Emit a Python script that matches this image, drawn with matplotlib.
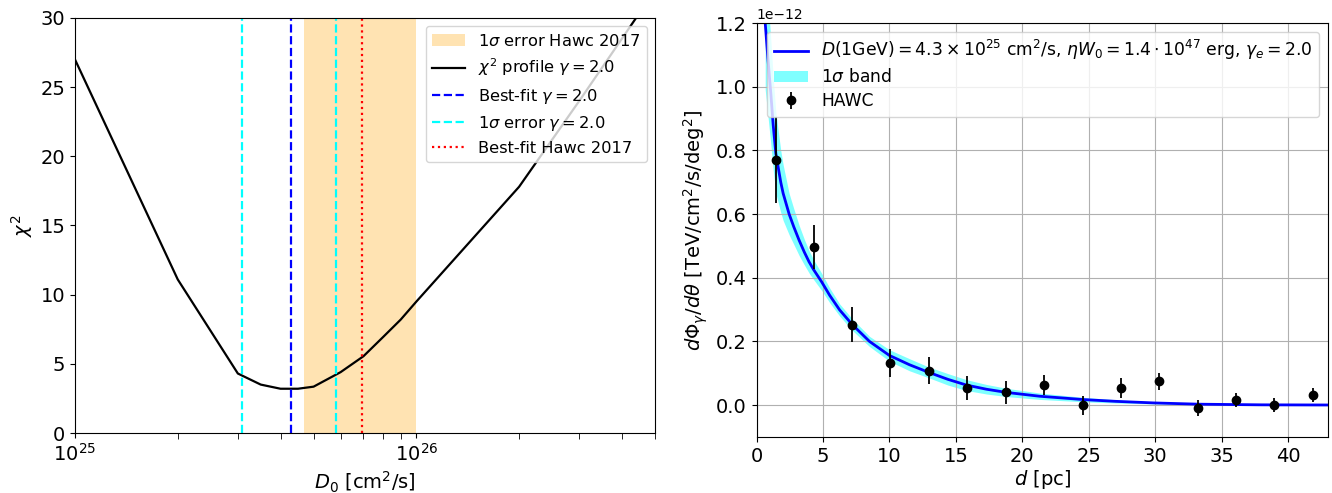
import numpy as np
import matplotlib
matplotlib.use("Agg")
import matplotlib.pyplot as plt

# ---- left panel: chi2 profile vs D0
D0 = [1e25, 2e25, 3e25, 3.5e25, 4e25, 4.5e25, 5e25, 6e25, 7e25, 8e25, 9e25,
      1e26, 2e26, 3e26, 4e26, 5e26]
chi2 = [27.0, 11.1, 4.3, 3.5, 3.2, 3.2, 3.35, 4.4, 5.55, 6.95, 8.2,
        9.5, 17.8, 24.0, 28.5, 32.0]
best_fit = 4.3e25
err_lo, err_hi = 3.08e25, 5.82e25
hawc_best = 6.95e25
hawc_lo, hawc_hi = 4.7e25, 1.0e26

# ---- right panel: surface brightness profile (units of 1e-12)
scale = 1e-12
d_model = [0.65, 0.85, 1.07, 1.25, 1.45, 1.82, 2.0, 2.45, 2.8, 3.2, 3.6, 3.95,
           4.3, 4.9, 5.5, 6.25, 7.2, 8.5, 10.0, 11.5, 12.95, 14.4, 15.8, 17.3,
           18.8, 21.3, 24.6, 27.0, 29.9, 33.3, 38.0, 43.0]
f_model = [1.20, 1.09, 0.98, 0.88, 0.79, 0.70, 0.665, 0.60, 0.56, 0.518, 0.48,
           0.45, 0.425, 0.387, 0.345, 0.299, 0.253, 0.20, 0.156, 0.127, 0.103,
           0.081, 0.063, 0.050, 0.040, 0.028, 0.0175, 0.012, 0.007, 0.003,
           0.001, 0.0005]
band_lo = [0.99, 0.91, 0.82, 0.74, 0.665, 0.605, 0.58, 0.535, 0.505, 0.47,
           0.44, 0.415, 0.394, 0.36, 0.322, 0.28, 0.235, 0.184, 0.138, 0.108,
           0.086, 0.063, 0.046, 0.035, 0.027, 0.018, 0.0105, 0.0068, 0.0038,
           0.0015, 0.0005, 0.0002]
band_hi = [1.42, 1.28, 1.15, 1.03, 0.92, 0.80, 0.755, 0.665, 0.617, 0.565,
           0.52, 0.485, 0.456, 0.414, 0.368, 0.318, 0.271, 0.216, 0.174, 0.146,
           0.12, 0.099, 0.08, 0.065, 0.053, 0.038, 0.0245, 0.0172, 0.0102,
           0.0045, 0.0015, 0.0008]

d_hawc = [1.43, 4.3, 7.2, 10.05, 12.95, 15.8, 18.75, 21.6, 24.6, 27.45, 30.3,
          33.25, 36.1, 38.95, 41.9]
f_hawc = [0.77, 0.496, 0.253, 0.133, 0.108, 0.054, 0.041, 0.0625, -0.001,
          0.055, 0.075, -0.008, 0.0155, 0.002, 0.033]
e_hawc = [0.134, 0.07, 0.056, 0.044, 0.043, 0.038, 0.036, 0.032, 0.031,
          0.031, 0.026, 0.025, 0.022, 0.022, 0.022]

fig = plt.figure(figsize=(13.32, 4.93), dpi=100)

ax1 = fig.add_axes([0.0563, 0.1217, 0.4354, 0.8418])
span = ax1.axvspan(hawc_lo, hawc_hi, color="orange", alpha=0.3, lw=0)
l_chi, = ax1.plot(D0, chi2, color="k", lw=1.6)
l_bf = ax1.axvline(best_fit, color="blue", ls="--", lw=1.6)
l_er = ax1.axvline(err_lo, color="cyan", ls="--", lw=1.6)
ax1.axvline(err_hi, color="cyan", ls="--", lw=1.6)
l_hb = ax1.axvline(hawc_best, color="red", ls=":", lw=1.6)
ax1.set_xscale("log")
ax1.set_xlim(1e25, 5e26)
ax1.set_ylim(0, 30)
ax1.set_xlabel(r"$D_0$ [cm$^2$/s]", fontsize=14)
ax1.set_ylabel(r"$\chi^2$", fontsize=14)
ax1.tick_params(labelsize=14)
ax1.tick_params(which="minor", length=4)
ax1.legend([span, l_chi, l_bf, l_er, l_hb],
           [r"1$\sigma$ error Hawc 2017", r"$\chi^2$ profile $\gamma = 2.0$",
            r"Best-fit $\gamma = 2.0$", r"1$\sigma$ error $\gamma = 2.0$",
            "Best-fit Hawc 2017"],
           loc="upper right", fontsize=11.7)

ax2 = fig.add_axes([0.568, 0.1136, 0.429, 0.8397])
band = ax2.fill_between(d_model, np.array(band_lo) * scale, np.array(band_hi) * scale,
                        color="cyan", alpha=0.5, lw=0)
l_mod, = ax2.plot(d_model, np.array(f_model) * scale, color="blue", lw=2)
eb = ax2.errorbar(d_hawc, np.array(f_hawc) * scale, yerr=np.array(e_hawc) * scale,
                  fmt="o", color="k", ms=6, elinewidth=1.3)
ax2.set_xlim(0, 43)
ax2.set_ylim(-0.1e-12, 1.2e-12)
ax2.grid(True)
ax2.set_xlabel(r"$d$ [pc]", fontsize=14, labelpad=2)
ax2.set_ylabel(r"$d\Phi_\gamma/d\theta$ [TeV/cm$^2$/s/deg$^2$]", fontsize=14)
ax2.tick_params(labelsize=14)
ax2.legend([l_mod, band, eb],
           [r"$D(1{\rm GeV}) = 4.3\times10^{25}$ cm$^2$/s, $\eta W_0 = 1.4\cdot10^{47}$ erg, $\gamma_e = 2.0$",
            r"1$\sigma$ band", "HAWC"],
           loc="upper right", fontsize=12.3, labelspacing=0.35)

fig.savefig("out.png", dpi=100)
